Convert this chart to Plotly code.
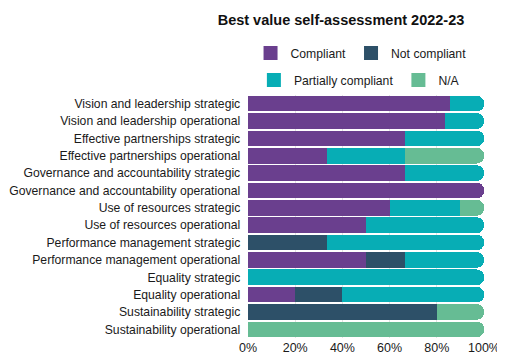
import plotly.graph_objects as go

categories = [
    "Vision and leadership strategic",
    "Vision and leadership operational",
    "Effective partnerships strategic",
    "Effective partnerships operational",
    "Governance and accountability strategic",
    "Governance and accountability operational",
    "Use of resources strategic",
    "Use of resources operational",
    "Performance management strategic",
    "Performance management operational",
    "Equality strategic",
    "Equality operational",
    "Sustainability strategic",
    "Sustainability operational",
]
compliant = [85.7, 83.3, 66.7, 33.3, 66.7, 100, 60, 50, 0, 50, 0, 20, 0, 0]
not_compliant = [0, 0, 0, 0, 0, 0, 0, 0, 33.3, 16.7, 0, 20, 80, 0]
partially = [14.3, 16.7, 33.3, 33.3, 33.3, 0, 30, 50, 66.7, 33.3, 100, 60, 0, 0]
na = [0, 0, 0, 33.4, 0, 0, 10, 0, 0, 0, 0, 0, 20, 100]

series = [
    ("Compliant", compliant, "#6A3F8E", "legend"),
    ("Not compliant", not_compliant, "#2D5068", "legend"),
    ("Partially compliant", partially, "#07ADB5", "legend2"),
    ("N/A", na, "#66BC94", "legend2"),
]

fig = go.Figure()
for name, vals, color, leg in series:
    fig.add_trace(go.Bar(
        y=categories, x=vals, name=name, orientation="h",
        marker=dict(color=color, line=dict(width=0)),
        legend=leg, legendgroup=name, showlegend=False,
        hovertemplate="%{y}: %{x}%<extra>" + name + "</extra>",
    ))
# legend entries with larger square swatches
for name, vals, color, leg in series:
    fig.add_trace(go.Scatter(
        x=[None], y=[None], mode="markers", name=name,
        marker=dict(symbol="square", size=14, color=color, line=dict(width=0)),
        legend=leg, legendgroup=name, showlegend=True, hoverinfo="skip",
    ))

# page body has an 8px margin, so the figure is sized to fit the remaining viewport
fig.update_layout(
    barmode="stack",
    bargap=0.1,
    barcornerradius=8,
    width=497, height=349,
    margin=dict(l=240, r=21, t=87, b=19),
    paper_bgcolor="white", plot_bgcolor="white",
    font=dict(family="Liberation Sans, Arial, sans-serif", size=12, color="#1a1a1a"),
    title=dict(text="<b>Best value self-assessment 2022-23</b>", x=0.670, xref="container",
               xanchor="center", y=0.9656, yanchor="middle",
               font=dict(size=14.5, color="#111")),
    legend=dict(orientation="h", x=0.479, xanchor="center", xref="paper",
                y=1.173, yanchor="middle", font=dict(size=12.2),
                traceorder="normal", itemwidth=30),
    legend2=dict(orientation="h", x=0.472, xanchor="center", xref="paper",
                 y=1.062, yanchor="middle", font=dict(size=12.2),
                 traceorder="normal", itemwidth=30),
    xaxis=dict(range=[0, 100], tickvals=[0, 20, 40, 60, 80, 100],
               ticktext=["0%", "20%", "40%", "60%", "80%", "100%"],
               showgrid=True, gridcolor="#e3e3e3", gridwidth=1,
               zeroline=False, showline=False, ticks="", automargin=False,
               tickfont=dict(size=12.5)),
    yaxis=dict(autorange="reversed", showgrid=False, ticks="", automargin=False,
               ticksuffix="  ", tickfont=dict(size=12.2)),
)

fig.write_html("out.html")
